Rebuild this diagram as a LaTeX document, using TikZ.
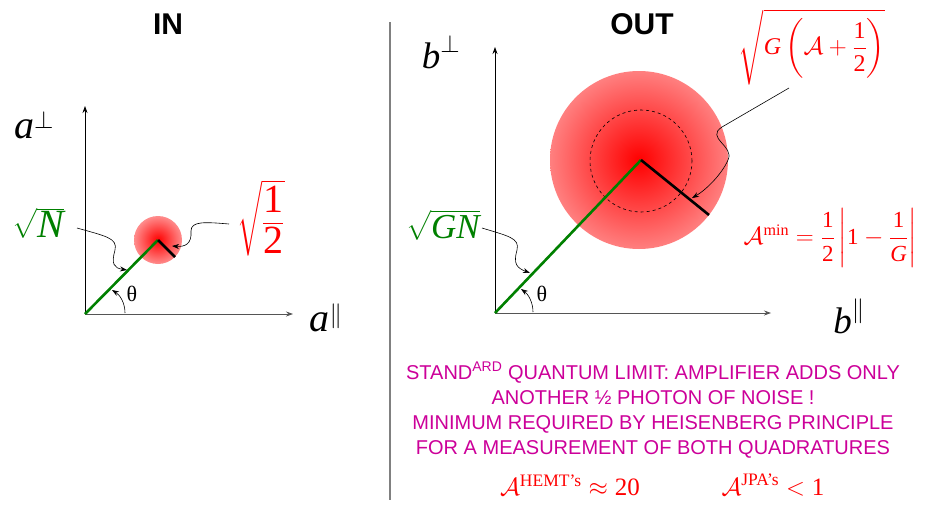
\documentclass[tikz,border=0pt]{standalone}
\usepackage{amsmath}
\usepackage{fontspec}
\setmainfont{Liberation Serif}
\newfontfamily\arial{Liberation Sans}
\usetikzlibrary{arrows.meta}
\definecolor{vecGreen}{HTML}{008000}
\definecolor{noiseRed}{HTML}{FF0000}
\definecolor{noteMagenta}{HTML}{CC0099}
\definecolor{divGrey}{HTML}{808080}
\definecolor{axGrey}{HTML}{555555}
\newcommand\setsz[1]{\fontsize{#1}{#1}\selectfont}
\newcommand\vi[1]{\text{\itshape #1}}
\newcommand\hfr[2]{\dfrac{\text{#1}}{#2}}
\tikzset{
  ttl/.style    = {font=\arial\setsz{30}\bfseries, inner sep=0pt},
  axlbl/.style  = {font=\setsz{40}, inner sep=0pt},
  grnlbl/.style = {text=vecGreen, inner sep=0pt},
  redlbl/.style = {text=noiseRed, inner sep=0pt},
  thlbl/.style  = {font=\setsz{22}, inner sep=0pt},
  ax/.style     = {-{Stealth[length=7pt, width=5pt]}, line width=0.8pt},
  vec/.style    = {draw=vecGreen, line width=2.6pt},
  rad/.style    = {draw=black, line width=2.6pt},
  wig/.style    = {-{Stealth[length=7pt, width=5pt]}, line width=0.6pt},
  note/.style   = {font=\arial\fontsize{20}{25}\selectfont, text=noteMagenta,
                   align=center, inner sep=0pt}
}
\begin{document}
\begin{tikzpicture}[x=1pt, y=-1pt]
  \useasboundingbox (0,0) rectangle (940,506);

  % ---- IN ----
  \node[ttl] (tIn) at (168,24) {IN};
  \coordinate (oIn) at (85,314);
  \coordinate (inTop) at (85,106);
  \coordinate (inRight) at (293,314);
  \coordinate (inTip) at (158,240);
  \coordinate (inEdge) at (175,257);
  \shade[inner color=noiseRed, outer color=noiseRed!45] (inTip) circle[radius=24pt];
  \draw[ax] (oIn) -- (inTop);
  \draw[ax, draw=axGrey] (oIn) -- (inRight);
  \draw[vec] (oIn) -- (inTip);
  \draw[rad] (inTip) -- (inEdge);
  \node[axlbl] (aPerp) at (34,125) {$\vi{a}^{\perp}$};
  \node[axlbl] (aPar) at (326,318) {$\vi{a}^{\parallel}$};
  \node[axlbl, grnlbl] (sqN) at (38,223) {$\sqrt{\vi{N}}$};
  \node[axlbl, redlbl] (sqHalf) at (261,218) {$\sqrt{\hfr{1}{\text{2}}}$};
  \node[thlbl] (thIn) at (132,294) {θ};
  \coordinate (wNa) at (77,228);
  \coordinate (wNb) at (127,270);
  \coordinate (wHa) at (229,224);
  \coordinate (wHb) at (172,246);
  \coordinate (thInA) at (125,313);
  \coordinate (thInB) at (112,290);
  \draw[wig] (wNa) .. controls (105,236) and (118,238) .. (115,250)
                   .. controls (111,264) and (114,268) .. (wNb);
  \draw[wig] (wHa) .. controls (205,222) and (191,221) .. (191,231)
                   .. controls (192,244) and (185,247) .. (wHb);
  \draw[wig] (thInA) .. controls (125,303) and (120,295) .. (thInB);

  % divider
  \draw[divGrey, line width=1.5pt] (390,22) -- (390,500);

  % ---- OUT ----
  \node[ttl] (tOut) at (642,24) {OUT};
  \coordinate (oOut) at (495,313);
  \coordinate (outTop) at (495,47);
  \coordinate (outRight) at (771,313);
  \coordinate (outTip) at (641,160);
  \coordinate (outEdge) at (709,215);
  \shade[inner color=noiseRed, outer color=noiseRed!50] (639,160) circle[radius=89pt];
  \draw[dashed, line width=0.6pt] (641,161) circle[radius=51pt];
  \draw[ax] (oOut) -- (outTop);
  \draw[ax, draw=axGrey] (oOut) -- (outRight);
  \draw[vec] (oOut) -- (outTip);
  \draw[rad] (outTip) -- (outEdge);
  \node[axlbl, font=\setsz{37}] (bPerp) at (441,52) {$\vi{b}^{\perp}$};
  \node[axlbl, font=\setsz{37}] (bPar) at (849,316) {$\vi{b}^{\parallel}$};
  \node[axlbl, grnlbl, font=\setsz{35}] (sqGN) at (443,225) {$\sqrt{\vi{GN}}$};
  \node[redlbl, font=\setsz{24}] (sqGA) at (812,47)
    {$\sqrt{\vi{G}\left(\mathcal{A}+\hfr{1}{\text{2}}\right)}$};
  \node[redlbl, font=\setsz{23}] (aMin) at (830,238)
    {$\mathcal{A}^{\text{min}}=\hfr{1}{\text{2}}\left|\text{1}-\hfr{1}{\vi{G}}\right|$};
  \node[thlbl] (thOut) at (542,294) {θ};
  \coordinate (wGa) at (482,228);
  \coordinate (wGb) at (530,273);
  \coordinate (wAa) at (789,88);
  \coordinate (wAb) at (692,198);
  \coordinate (thOutA) at (533,312);
  \coordinate (thOutB) at (521,289);
  \draw[wig] (wGa) .. controls (508,236) and (520,238) .. (517,250)
                   .. controls (513,264) and (517,268) .. (wGb);
  \draw[wig] (wAa) -- (722,127) .. controls (705,138) and (735,146) .. (728,160)
                   .. controls (722,174) and (706,190) .. (wAb);
  \draw[wig] (thOutA) .. controls (533,302) and (528,294) .. (thOutB);

  % ---- notes ----
  \node[note] (sql) at (653,410)
    {STAND\textsuperscript{ARD} QUANTUM LIMIT: AMPLIFIER ADDS ONLY\\
     ANOTHER ½ PHOTON OF NOISE !\\
     MINIMUM REQUIRED BY HEISENBERG PRINCIPLE\\
     FOR A MEASUREMENT OF BOTH QUADRATURES};
  \node[redlbl, font=\setsz{25}] (aHemt) at (570,485)
    {$\mathcal{A}^{\text{HEMT's}}\approx\text{20}$};
  \node[redlbl, font=\setsz{25}] (aJpa) at (773,485)
    {$\mathcal{A}^{\text{JPA's}}<\text{1}$};
\end{tikzpicture}
\end{document}
